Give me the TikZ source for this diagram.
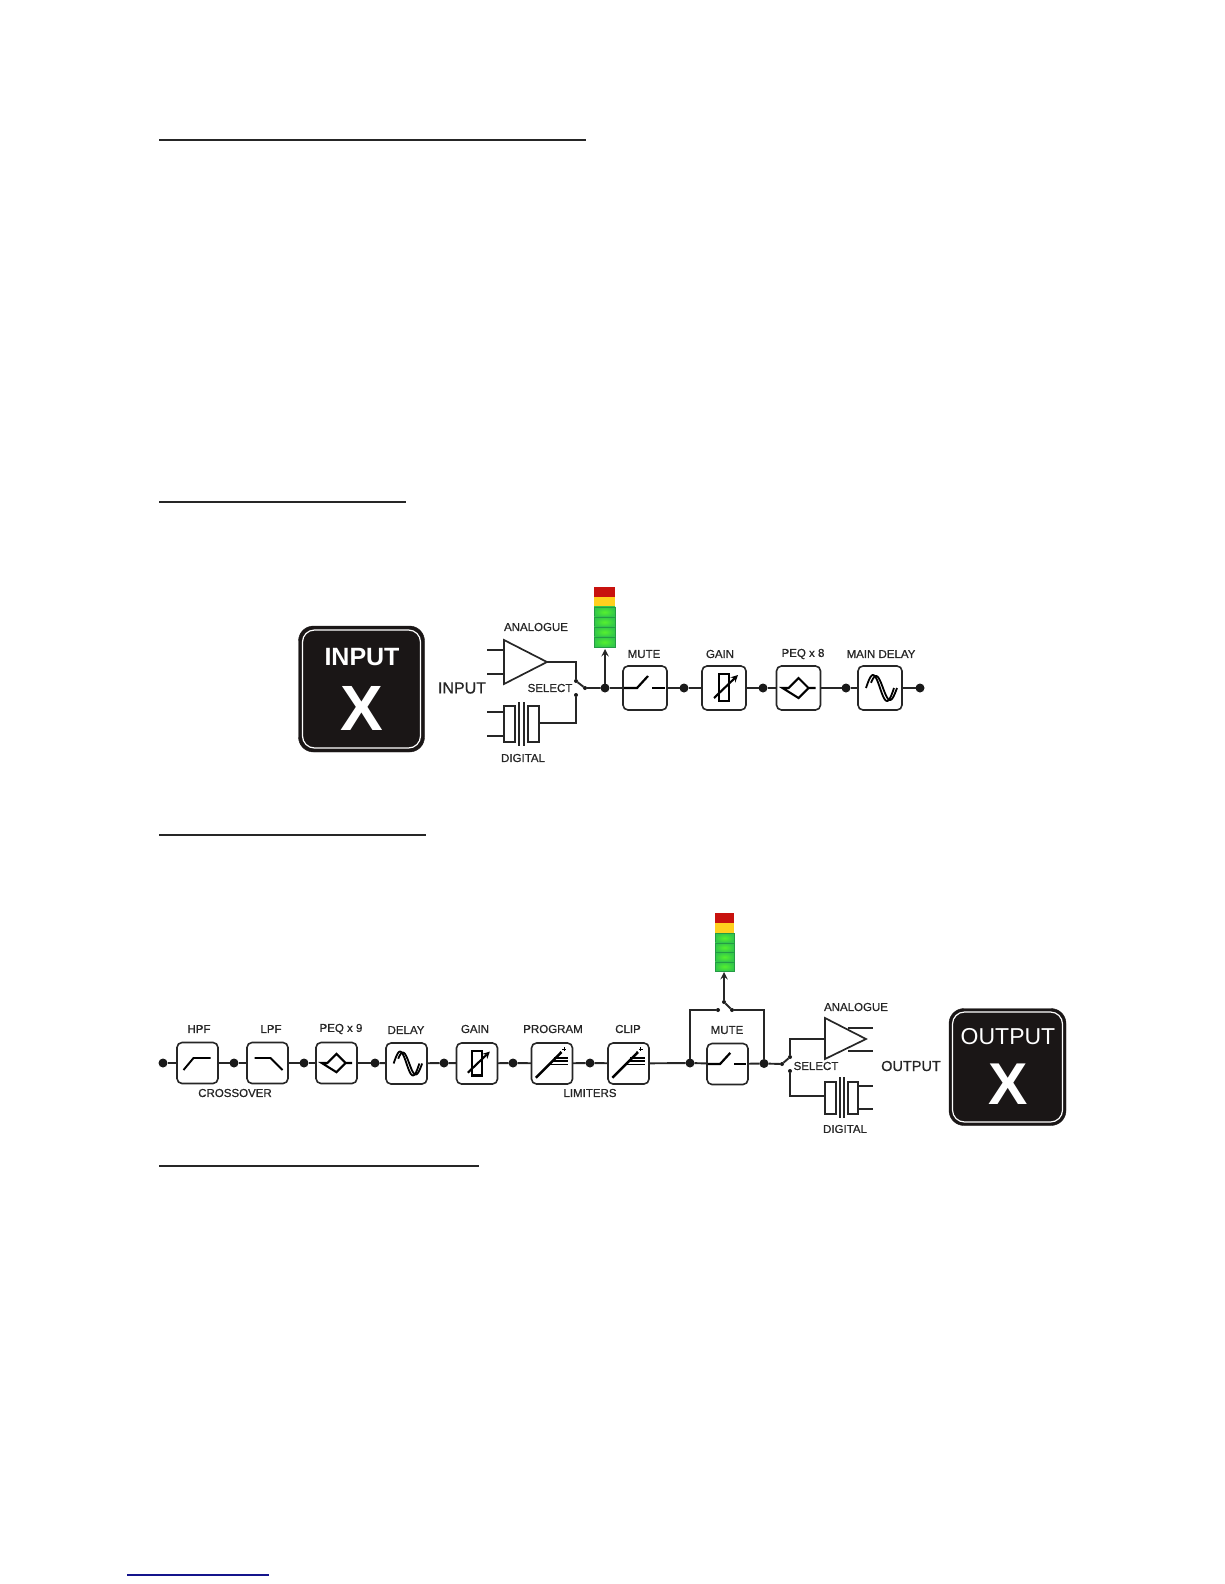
\documentclass[tikz,border=0pt]{standalone}
\usepackage{fontspec}
\setmainfont{Liberation Sans}
\newfontfamily\lblfont[FakeBold=0.8]{Liberation Sans}
\definecolor{panelblack}{HTML}{1A1616}
\definecolor{linkblue}{HTML}{14148C}
\definecolor{ledred}{HTML}{C8120E}
\definecolor{ledyellow}{HTML}{FFD01E}
\definecolor{ledgreen}{HTML}{33C84A}
\definecolor{ledbright}{HTML}{55F02E}
\definecolor{ledline}{HTML}{259A45}
\tikzset{
  wire/.style={line width=1.9pt, black!85},
  rulerline/.style={line width=1.1pt, black!85},
  blockbox/.style={draw=black!85, line width=1.6pt, fill=white, rounded corners=5pt, minimum size=#1, inner sep=0pt, outer sep=0pt},
  blockbox/.default=44pt,
  junction/.style={circle, fill=black!90, inner sep=0pt, outer sep=0pt, minimum size=9pt},
  contact/.style={circle, fill=black!90, inner sep=0pt, outer sep=0pt, minimum size=4pt},
  lbl/.style={font=\lblfont\fontsize{11.5}{12}\selectfont, text=black!85, inner sep=0pt},
  panel/.style={fill=panelblack, draw=panelblack, rounded corners=15pt, minimum size=#1, inner sep=0pt},
  panelline/.style={draw=white, line width=1.2pt, rounded corners=12pt, minimum size=#1, inner sep=0pt},
  ledbox/.style={minimum width=#1, minimum height=10pt, inner sep=0pt},
  muteicon/.pic={
    \draw[line width=2.2pt] (-21,0) -- (-8,0) -- (3,-12);
    \draw[line width=2.2pt] (7,0) -- (20,0);
  },
  gainicon/.pic={
    \draw[line width=2.1pt] (-5,-14) rectangle (5,13);
    \draw[line width=2.1pt, -stealth] (-10,10) -- (14,-13);
  },
  peqicon/.pic={
    \draw[line width=2.1pt] (-16,0) -- (-10,0) -- (0,-10) -- (10,0) -- (0,10) -- cycle (10,0) -- (17,0);
  },
  delayicon/.pic={
    \draw[line width=1.8pt] plot[domain=-14:14, samples=40, smooth] (\x, {13*sin(360*(\x)/28)});
    \draw[line width=1.8pt] plot[domain=-9:17, samples=40, smooth] (\x, {12*sin(360*(\x-3)/28)});
  },
  hpficon/.pic={\draw[line width=1.9pt] (-14,7) -- (-4,-5) -- (13,-5);},
  lpficon/.pic={\draw[line width=1.9pt] (-13,-5) -- (3,-5) -- (15,7);},
  limiticon/.pic={
    \draw[line width=2.4pt] (-17,15) -- (10,-12);
    \draw[line width=1.5pt] (2,-6) -- (17,-6) (0,-2.5) -- (17,-2.5) (-3,1) -- (17,1);
    \draw[line width=.9pt] (11,-15) -- (15,-15) (13,-17) -- (13,-13);
    \fill (9,-12) circle (1pt);
  },
}
\begin{document}
\begin{tikzpicture}[x=1pt, y=-1pt]
  \useasboundingbox (0,0) rectangle (1224,1584);
  % section rules
  \draw[rulerline] (159,140) -- (586,140);
  \draw[rulerline] (159,502) -- (406,502);
  \draw[rulerline] (159,835) -- (426,835);
  \draw[rulerline] (159,1166) -- (479,1166);
  \draw[linkblue, line width=1.2pt] (127,1575) -- (269,1575);

  % input panel
  \node[panel=126pt] (inpanel) at (361.5,689) {};
  \node[panelline=118pt] at (inpanel) {};
  \node[text=white, font=\bfseries\fontsize{25}{25}\selectfont, inner sep=0pt] at (362,657) {INPUT};
  \node[text=white, font=\bfseries\fontsize{64}{64}\selectfont, inner sep=0pt] at (362,708) {X};
  \node[lbl, font=\lblfont\fontsize{16}{16}\selectfont] (inlabel) at (462,688) {INPUT};

  % input stage
  \coordinate (ampatip) at (547,662);
  \draw[wire, line width=1.7pt] (504,640) -- (ampatip) -- (504,684) -- cycle;
  \draw[wire] (487,650) -- (504,650) (487,674) -- (504,674);
  \draw[wire, line width=1.7pt] (504,706) rectangle (515,742) (528,706) rectangle (539,742);
  \draw[wire] (519,702) -- (519,746) (524,702) -- (524,746);
  \draw[wire] (487,712) -- (504,712) (487,736) -- (504,736);
  \coordinate (digaout) at (539,723);
  \node[contact] (swatop) at (576,681) {};
  \node[contact] (swabot) at (576,695) {};
  \node[contact] (swaarm) at (585,688) {};
  \node[junction] (ja) at (605,688) {};
  \draw[wire] (ampatip) -| (swatop);
  \draw[wire] (digaout) -| (swabot);
  \draw[wire] (swatop) -- (swaarm) -- (ja);
  \node[lbl] at (536,627) {ANALOGUE};
  \node[lbl] at (550,688) {SELECT};
  \node[lbl] at (523,758) {DIGITAL};

  % input meter
  \node[ledbox=21pt, fill=ledred] (mareda) at (604.5,592) {};
  \node[ledbox=21pt, fill=ledyellow] (mayel) at (604.5,602) {};
  \foreach \y in {612,622,632,642}
    \node[ledbox=21pt, minimum height=10.2pt, inner color=ledbright, outer color=ledgreen, draw=ledline, line width=.5pt] at (604.5,\y) {};
  \coordinate (mabot) at (605,649);
  \draw[wire, line width=2.2pt, -stealth] (ja) -- (mabot);

  % input chain
  \node[blockbox] (mutea) at (645,688) {};
  \node[junction] (jb) at (684,688) {};
  \node[blockbox] (gaina) at (724,688) {};
  \node[junction] (jc) at (763,688) {};
  \node[blockbox] (peqa) at (798.5,688) {};
  \node[junction] (jd) at (846,688) {};
  \node[blockbox] (delaya) at (880,688) {};
  \node[junction] (je) at (920,688) {};
  \foreach \a/\b in {ja/mutea, mutea/jb, jb/gaina, gaina/jc, jc/peqa, peqa/jd, jd/delaya, delaya/je}
    \draw[wire] (\a) -- (\b);
  \pic at (mutea) {muteicon};
  \pic at (gaina) {gainicon};
  \pic at (peqa) {peqicon};
  \pic at (delaya) {delayicon};
  \node[lbl] at (644,654) {MUTE};
  \node[lbl] at (720,654) {GAIN};
  \node[lbl] at (803,654) {PEQ x 8};
  \node[lbl] at (881,654) {MAIN DELAY};

  % output chain
  \node[junction] (ka) at (163,1063) {};
  \node[blockbox=41pt] (hpf) at (197.5,1063) {};
  \node[junction] (kb) at (234,1063) {};
  \node[blockbox=41pt] (lpf) at (267.5,1063) {};
  \node[junction] (kc) at (304,1063) {};
  \node[blockbox=41pt] (peqb) at (336.5,1063) {};
  \node[junction] (kd) at (375,1063) {};
  \node[blockbox=41pt] (delayb) at (406.5,1063.5) {};
  \node[junction] (ke) at (444,1063) {};
  \node[blockbox=41pt] (gainb) at (477,1063.5) {};
  \node[junction] (kf) at (513,1063) {};
  \node[blockbox=41pt] (prog) at (552,1063.5) {};
  \node[junction] (kg) at (590,1063) {};
  \node[blockbox=41pt] (clip) at (628.5,1063.5) {};
  \node[junction] (kh) at (690,1063) {};
  \node[blockbox=41pt] (muteb) at (727.5,1064) {};
  \node[junction] (ki) at (764,1063.5) {};
  \foreach \a/\b in {ka/hpf, hpf/kb, kb/lpf, lpf/kc, kc/peqb, peqb/kd, kd/delayb, delayb/ke, ke/gainb, gainb/kf, kf/prog, prog/kg, kg/clip, clip/kh, kh/muteb, muteb/ki}
    \draw[wire] (\a) -- (\b);
  \pic at (hpf) {hpficon};
  \pic at (lpf) {lpficon};
  \pic[scale=.92] at (peqb) {peqicon};
  \pic[scale=.92] at (delayb) {delayicon};
  \pic[scale=.92] at (gainb) {gainicon};
  \pic[scale=.95] at (prog) {limiticon};
  \pic[scale=.95] at (clip) {limiticon};
  \pic[scale=.93] at (muteb) {muteicon};
  \node[lbl] at (199,1029) {HPF};
  \node[lbl] at (271,1029) {LPF};
  \node[lbl] at (341,1029) {PEQ x 9};
  \node[lbl] at (406,1030) {DELAY};
  \node[lbl] at (475,1029) {GAIN};
  \node[lbl] at (553,1029) {PROGRAM};
  \node[lbl] at (628,1029) {CLIP};
  \node[lbl] at (727,1030) {MUTE};
  \node[lbl] at (235,1093) {CROSSOVER};
  \node[lbl] at (590,1093) {LIMITERS};

  % meter tap round the mute
  \node[contact] (tapl) at (718,1010) {};
  \node[contact] (tapr) at (732,1010) {};
  \node[contact] (taparm) at (724,1002) {};
  \draw[wire] (kh) |- (tapl);
  \draw[wire] (ki) |- (tapr);
  \draw[wire] (tapr) -- (taparm);
  \node[ledbox=19pt, fill=ledred] (mbred) at (724.5,918) {};
  \node[ledbox=19pt, fill=ledyellow] (mbyel) at (724.5,928) {};
  \foreach \y in {938,947.5,957,966.5}
    \node[ledbox=19pt, minimum height=9.5pt, inner color=ledbright, outer color=ledgreen, draw=ledline, line width=.5pt] at (724.5,\y) {};
  \coordinate (mbbot) at (724,972);
  \draw[wire, line width=2.2pt, -stealth] (taparm) -- (mbbot);

  % output stage
  \coordinate (ampbin) at (825,1039);
  \draw[wire] (848,1028) -- (873,1028) (848,1051) -- (873,1051);
  \draw[wire, line width=1.7pt] (825,1018) -- (866,1039) -- (825,1059) -- cycle;
  \draw[wire, line width=1.7pt] (825,1082) rectangle (836,1114) (848,1082) rectangle (858,1114);
  \draw[wire] (840,1077) -- (840,1118) (844,1077) -- (844,1118);
  \draw[wire] (858,1086) -- (873,1086) (858,1109) -- (873,1109);
  \coordinate (digbin) at (825,1096);
  \node[contact] (swbtop) at (790,1057) {};
  \node[contact] (swbbot) at (790,1071) {};
  \node[contact] (swbarm) at (782,1064) {};
  \draw[wire] (ki) -- (swbarm) -- (swbtop);
  \draw[wire] (swbtop) |- (ampbin);
  \draw[wire] (swbbot) |- (digbin);
  \node[lbl] at (856,1007) {ANALOGUE};
  \node[lbl] at (816,1066) {SELECT};
  \begin{scope}
    \clip (800,1115) rectangle (900,1132);
    \node[lbl] at (845,1129) {DIGITAL};
  \end{scope}
  \node[lbl, font=\lblfont\fontsize{14.5}{15}\selectfont] at (911,1066) {OUTPUT};

  % output panel
  \node[panel=117pt] (outpanel) at (1007.5,1067) {};
  \node[panelline=110pt] at (outpanel) {};
  \node[text=white, font=\fontsize{23}{23}\selectfont, inner sep=0pt] at (1008,1037) {OUTPUT};
  \node[text=white, font=\bfseries\fontsize{59}{59}\selectfont, inner sep=0pt] at (1008,1084) {X};
\end{tikzpicture}
\end{document}
